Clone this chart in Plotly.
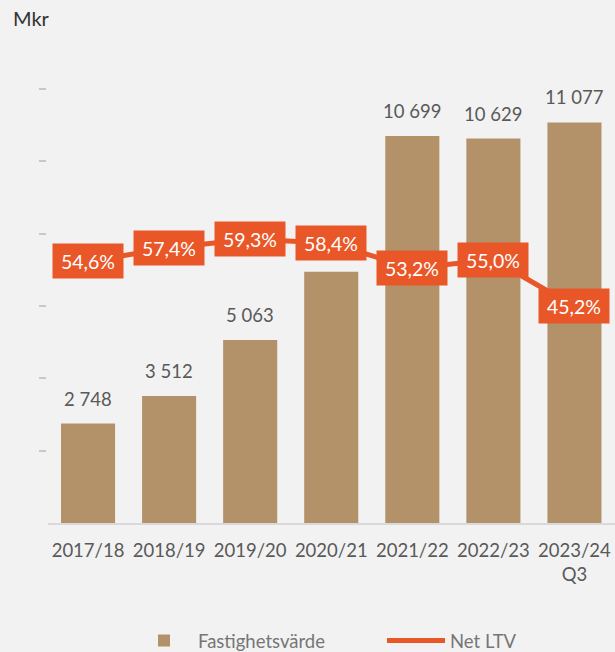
import plotly.graph_objects as go

categories = ["2017/18", "2018/19", "2019/20", "2020/21", "2021/22", "2022/23", "2023/24<br>Q3"]
fastighetsvarde = [2748, 3512, 5063, 6950, 10699, 10629, 11077]
show_value_label = [True, True, True, False, True, True, True]
net_ltv = [54.6, 57.4, 59.3, 58.4, 53.2, 55.0, 45.2]

BAR_COLOR = "#B3926A"
LINE_COLOR = "#E95728"
FONT = "Lato"
TXT = "#595959"
FS = 18.5

fig = go.Figure()
fig.add_trace(go.Bar(
    x=categories, y=fastighetsvarde, name="Fastighetsvärde",
    marker=dict(color=BAR_COLOR, line=dict(width=0)),
    yaxis="y", hoverinfo="skip",
))
fig.add_trace(go.Scatter(
    x=categories, y=net_ltv, name="Net LTV", mode="lines",
    line=dict(color=LINE_COLOR, width=5),
    yaxis="y2", hoverinfo="skip",
))

def fmt_thousands(v):
    return f"{v:,}".replace(",", " ")

annotations = []
for c, v, s in zip(categories, fastighetsvarde, show_value_label):
    if s:
        annotations.append(dict(
            x=c, y=v, xref="x", yref="y", text=fmt_thousands(v),
            showarrow=False, yanchor="bottom", yshift=12,
            font=dict(family=FONT, size=FS, color=TXT),
        ))
for c, v in zip(categories, net_ltv):
    annotations.append(dict(
        x=c, y=v, xref="x", yref="y2", text=f"{v:.1f}%".replace(".", ","),
        showarrow=False, xanchor="center", yanchor="middle",
        bgcolor=LINE_COLOR, width=62, height=26, borderpad=4,
        font=dict(family=FONT, size=19.5, color="white"),
    ))
annotations.append(dict(
    x=11 / 615, y=1 + (89 - 18) / 434, xref="paper", yref="paper", text="Mkr",
    showarrow=False, xanchor="left", yanchor="middle",
    font=dict(family=FONT, size=20, color="#333333"),
))

fig.update_layout(
    width=615, height=652,
    margin=dict(l=0, r=0, t=89, b=129, autoexpand=False),
    paper_bgcolor="#F2F2F2", plot_bgcolor="#F2F2F2",
    font=dict(family=FONT, size=FS, color=TXT),
    bargap=0.333,
    showlegend=True,
    legend=dict(orientation="h", x=130 / 615, xanchor="left",
                y=-(641 - 523) / 434, yanchor="middle",
                font=dict(family=FONT, size=FS, color="#767676"),
                itemwidth=58, entrywidth=179, bgcolor="rgba(0,0,0,0)"),
    xaxis=dict(domain=[47.5 / 615, 1], showgrid=False, showline=True,
               linecolor="#D9D9D9", linewidth=1.5, ticks="", anchor="y",
               automargin=False, ticklabelstandoff=10,
               tickfont=dict(family=FONT, size=FS, color=TXT)),
    yaxis=dict(range=[0, 12000], showgrid=False, showline=False,
               zeroline=False, showticklabels=False, ticks="outside", ticklen=7,
               tickcolor="#C8C8C8", tickwidth=1.5, automargin=False,
               tickvals=[2000, 4000, 6000, 8000, 10000, 12000],
               anchor="free", position=45.5 / 615),
    yaxis2=dict(range=[0, 90.6], overlaying="y", side="right",
                showgrid=False, showline=False, zeroline=False, automargin=False,
                showticklabels=False, ticks=""),
    annotations=annotations,
)

fig.write_html("out.html")
